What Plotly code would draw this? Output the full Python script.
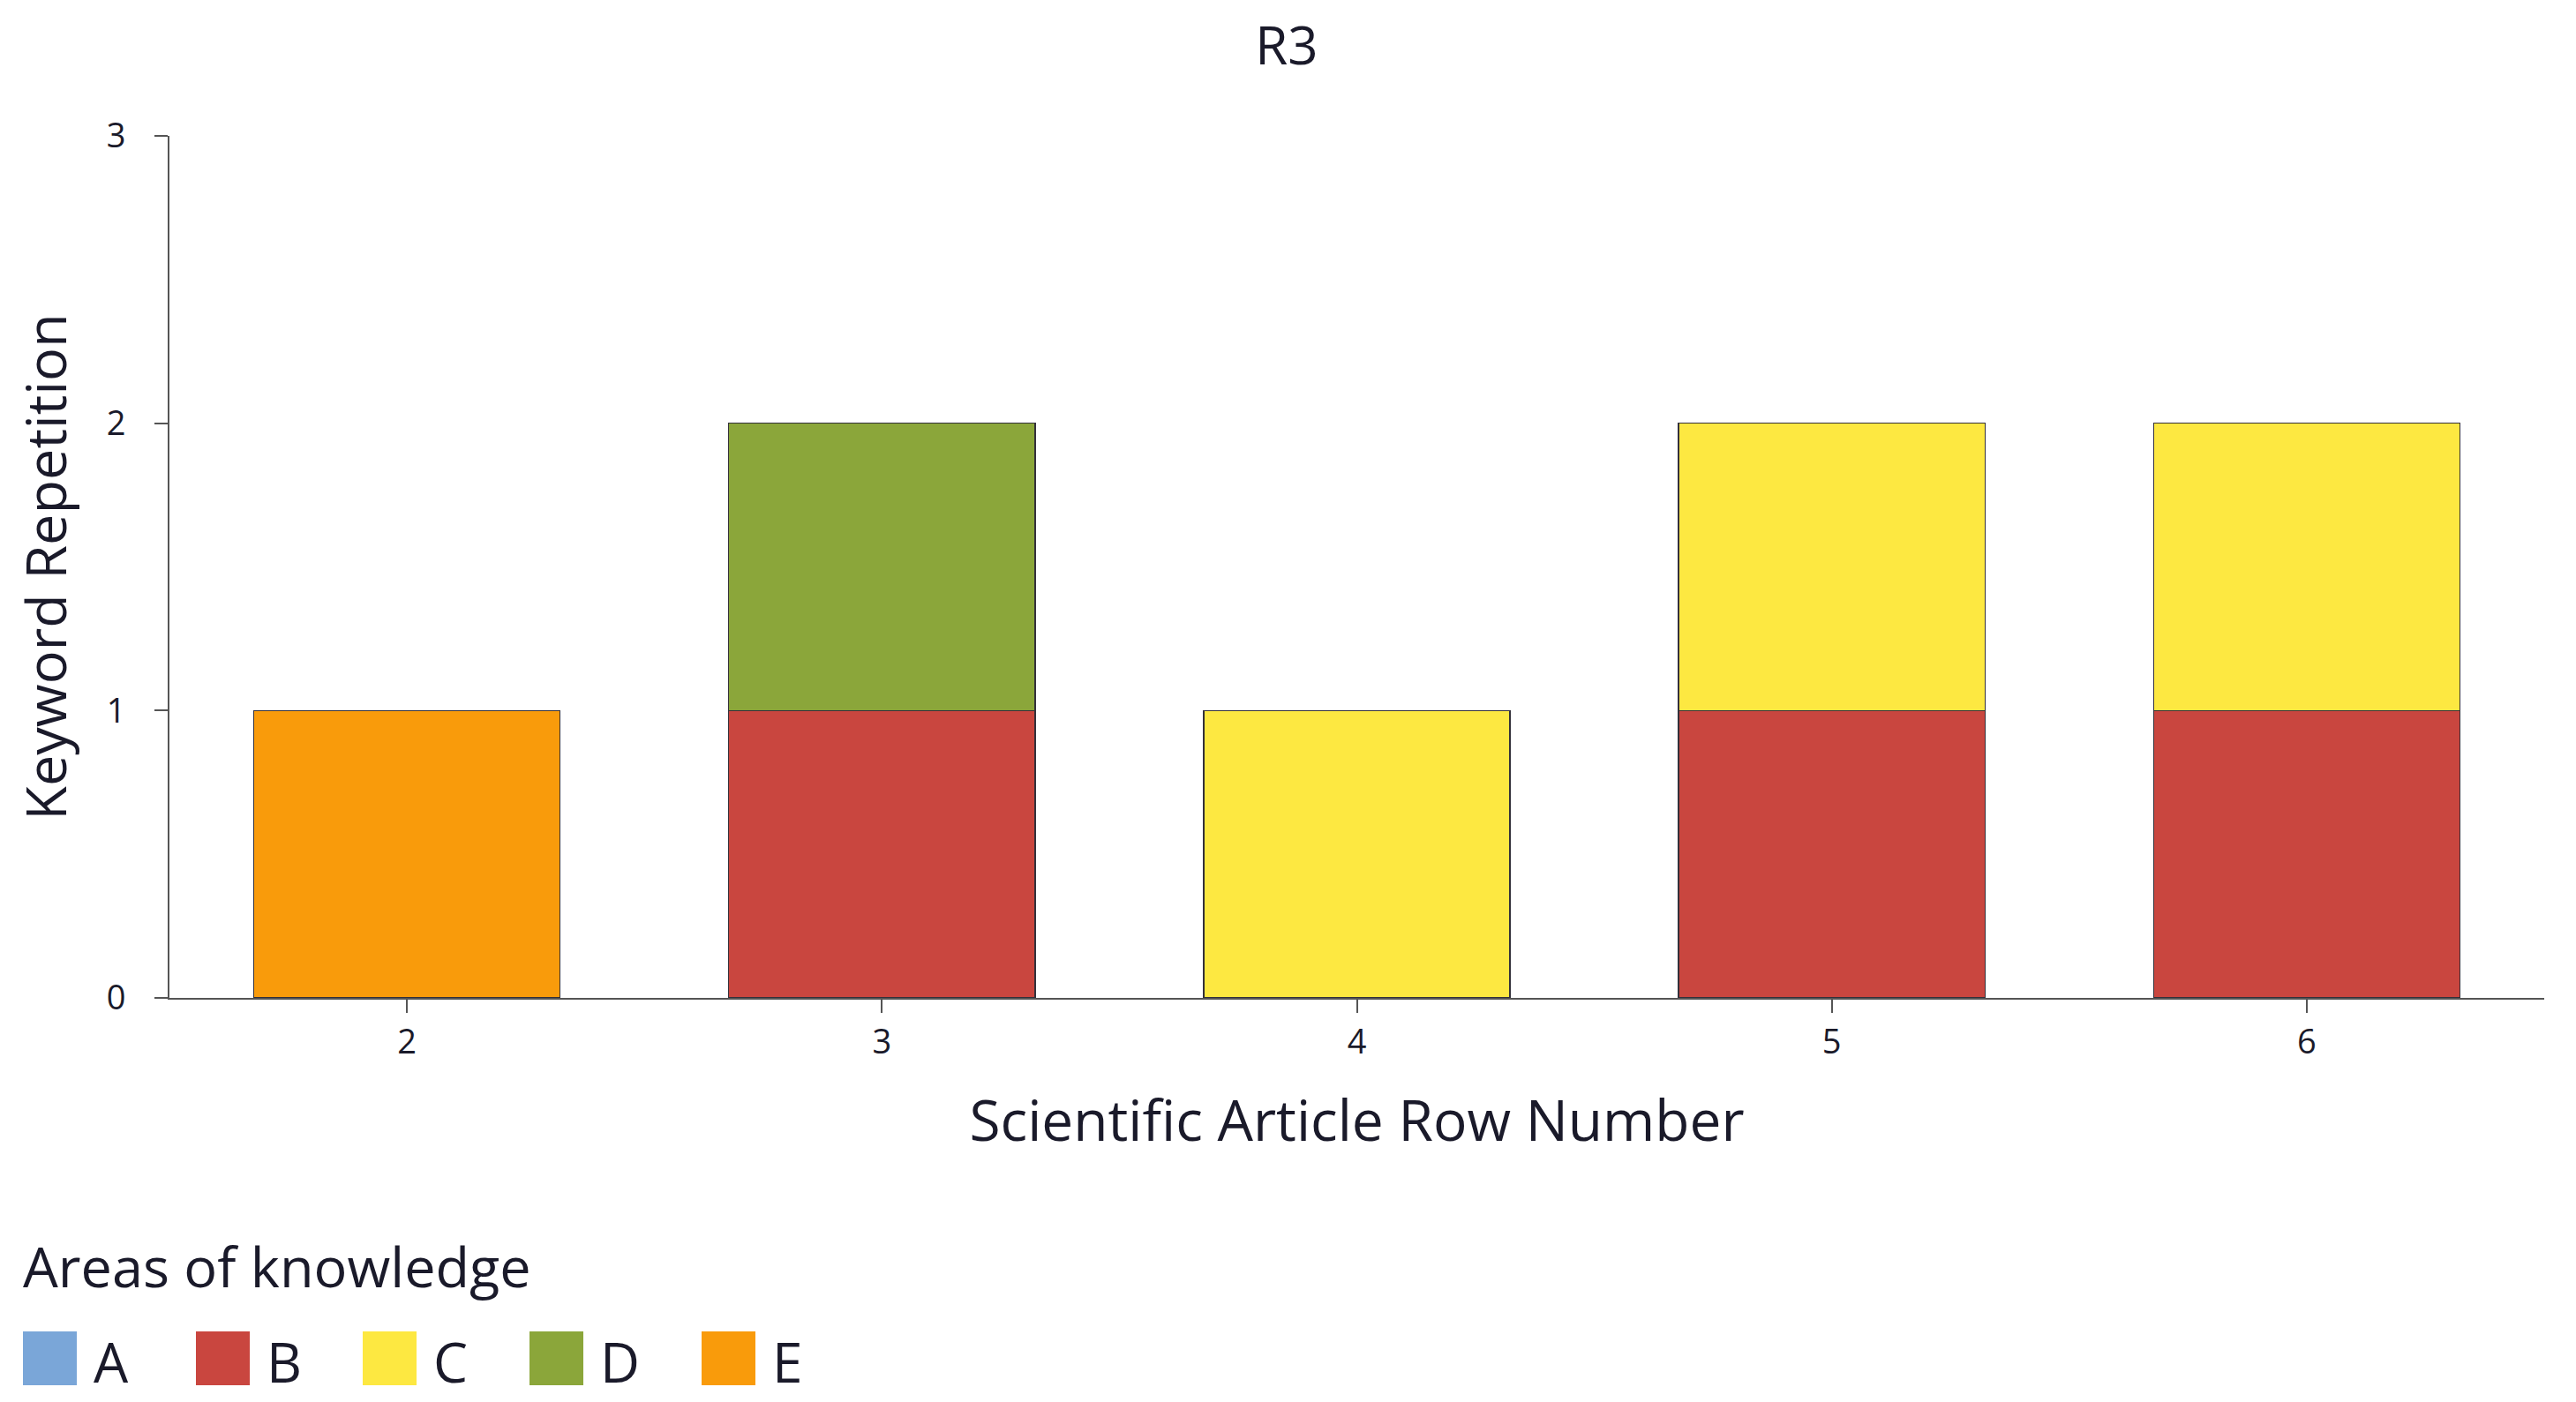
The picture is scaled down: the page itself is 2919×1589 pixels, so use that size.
import plotly.graph_objects as go

rows = [2, 3, 4, 5, 6]
areas = ["A", "B", "C", "D", "E"]
colors = ["#7AA6D8", "#C9463F", "#FDE841", "#8BA63A", "#F99B0B"]
values = {
    "A": [0, 0, 0, 0, 0],
    "B": [0, 1, 0, 1, 1],
    "C": [0, 0, 1, 1, 1],
    "D": [0, 1, 0, 0, 0],
    "E": [1, 0, 0, 0, 0],
}
y_ticks = [0, 1, 2, 3]

FONT = "Open Sans"
TXT = "#1a1a2a"
W, H = 2919, 1589
OFF = 8  # page body margin compensation
L, R, T, B = 192 - OFF, 36 + OFF, 154 - OFF, 458 + OFF
PW, PH = W - L - R, H - T - B


def px(x):
    return (x - OFF - L) / PW


def py(y):
    return (H - B - (y - OFF)) / PH


fig = go.Figure()
for name, col in zip(areas, colors):
    vals = [v if v else None for v in values[name]]
    fig.add_trace(go.Bar(
        x=rows, y=vals, name=name,
        marker=dict(color=col, line=dict(color="#33303a", width=1.5)),
        showlegend=False,
    ))

# manual legend (large swatches)
fig.add_annotation(text="Areas of knowledge", xref="paper", yref="paper",
                   x=px(24), y=py(1434),
                   xanchor="left", yanchor="middle", showarrow=False,
                   font=dict(family=FONT, size=63, color=TXT))
sw_left = [26, 222, 411, 600, 795]
for i, (name, col) in enumerate(zip(areas, colors)):
    x0 = sw_left[i]
    fig.add_shape(type="rect", xref="paper", yref="paper",
                  x0=px(x0), x1=px(x0 + 61),
                  y0=py(1570), y1=py(1509),
                  fillcolor=col, line=dict(width=0))
    fig.add_annotation(text=name, xref="paper", yref="paper",
                       x=px(x0 + 78), y=py(1543),
                       xanchor="left", yanchor="middle", showarrow=False,
                       font=dict(family=FONT, size=62, color=TXT))

fig.update_layout(
    width=W, height=H,
    paper_bgcolor="white", plot_bgcolor="white",
    barmode="stack", bargap=0.355,
    margin=dict(l=L, r=R, t=T, b=B),
    font=dict(family=FONT, color=TXT),
    title=dict(text="R3", x=(1458 - OFF) / W, xref="container", xanchor="center",
               y=1 - (52 - OFF) / H, yref="container", yanchor="middle",
               font=dict(family=FONT, size=60, color=TXT)),
    xaxis=dict(
        range=[1.5, 6.5], tickvals=rows, ticktext=[str(r) for r in rows],
        showline=True, linecolor="#555555", linewidth=2,
        ticks="outside", ticklen=15, tickcolor="#555555", tickwidth=2,
        showgrid=False, zeroline=False,
        tickfont=dict(family=FONT, size=38, color=TXT),
        title=dict(text="Scientific Article Row Number", standoff=45,
                   font=dict(family=FONT, size=64, color=TXT)),
        automargin=False,
    ),
    yaxis=dict(
        range=[0, 3], tickvals=y_ticks,
        showline=True, linecolor="#555555", linewidth=2,
        ticks="outside", ticklen=15, tickcolor="#555555", tickwidth=2,
        showgrid=False, zeroline=False,
        ticklabelstandoff=25,
        tickfont=dict(family=FONT, size=38, color=TXT),
        title=dict(text="Keyword Repetition", standoff=25,
                   font=dict(family=FONT, size=63, color=TXT)),
        automargin=False,
    ),
)

fig.write_html("out.html")
